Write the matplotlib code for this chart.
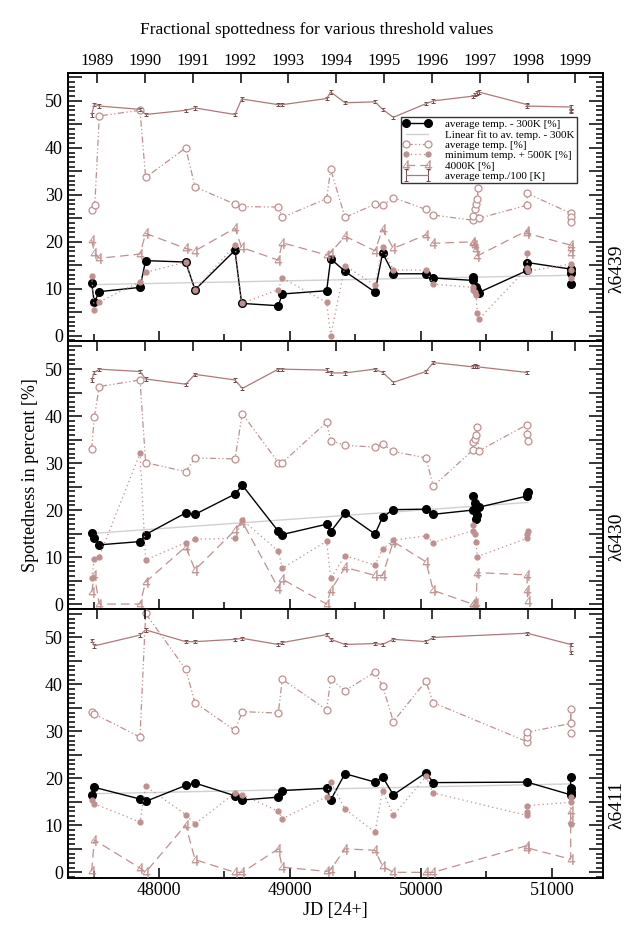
import numpy as np
import matplotlib
matplotlib.use('Agg')
import matplotlib.pyplot as plt
from matplotlib.ticker import MultipleLocator, FuncFormatter, FixedLocator

plt.rcParams['font.family'] = ['Liberation Serif', 'DejaVu Serif']
plt.rcParams['mathtext.fontset'] = 'stix'

# ---------------- data ----------------
panel_names = ["λ6439", "λ6430", "λ6411"]
years = ["1989", "1990", "1991", "1992", "1993", "1994", "1995", "1996", "1997", "1998", "1999"]
year_jd = [47527.5, 47892.5, 48257.5, 48622.5, 48988.5, 49353.5, 49718.5, 50083.5, 50449.5, 50814.5, 51179.5]

# ---- λ6439 ----
p1_blk_jd = [47486, 47506, 47544, 47855, 47898, 48204, 48275, 48580, 48631, 48911, 48941, 49280, 49311, 49420, 49649, 49707, 49789, 50038, 50094, 50394, 50400, 50420, 50430, 50440, 50811, 50811, 51143, 51143, 51143]
p1_blk = [11.2, 7.1, 9.4, 10.3, 16.0, 15.7, 9.8, 18.2, 6.9, 6.4, 8.9, 9.6, 16.4, 13.7, 9.3, 17.6, 13.2, 13.2, 12.3, 11.8, 12.6, 10.3, 9.8, 9.2, 13.9, 15.6, 14.2, 13.3, 11.0]
p1_avg_jd = [47486, 47510, 47544, 47855, 47898, 48204, 48275, 48580, 48631, 48911, 48941, 49280, 49311, 49420, 49649, 49707, 49789, 50038, 50094, 50394, 50400, 50410, 50420, 50430, 50435, 50440, 50811, 50811, 51143, 51143, 51143]
p1_avg = [26.8, 27.8, 46.8, 48.0, 33.7, 40.0, 31.7, 28.0, 27.5, 27.4, 25.2, 29.2, 35.4, 25.2, 28.0, 27.8, 29.4, 26.9, 25.7, 24.6, 25.4, 26.9, 28.0, 29.1, 31.4, 25.0, 27.8, 30.3, 26.1, 25.2, 24.3]
p1_min_jd = [47486, 47506, 47544, 47855, 47898, 48204, 48275, 48580, 48631, 48911, 48941, 49280, 49311, 49420, 49649, 49707, 49789, 50038, 50094, 50394, 50400, 50410, 50420, 50430, 50440, 50811, 50811, 50815, 51143, 51143, 51143]
p1_min = [12.7, 5.5, 7.2, 11.5, 13.5, 15.7, 9.8, 19.3, 6.9, 9.8, 12.3, 7.1, 0.0, 14.9, 10.8, 18.8, 14.0, 14.0, 11.0, 10.3, 9.8, 9.4, 8.7, 4.8, 3.5, 14.4, 17.6, 13.7, 15.3, 13.9, 12.3]
p1_4k_jd = [47486, 47506, 47544, 47855, 47898, 48204, 48275, 48580, 48631, 48911, 48941, 49280, 49311, 49420, 49649, 49707, 49789, 50038, 50094, 50394, 50400, 50410, 50420, 50430, 50811, 50811, 51143, 51143, 51143]
p1_4k = [20.4, 17.7, 16.5, 17.4, 21.8, 18.6, 18.1, 22.9, 18.8, 16.1, 19.8, 17.2, 17.7, 21.2, 18.1, 22.7, 18.6, 21.5, 19.7, 20.0, 19.8, 19.3, 18.4, 17.0, 22.4, 21.8, 19.3, 18.6, 17.7]
p1_tk_jd = [47486, 47506, 47544, 47855, 47898, 48204, 48275, 48580, 48631, 48911, 48941, 49280, 49311, 49420, 49649, 49707, 49789, 50038, 50094, 50394, 50410, 50425, 50440, 50811, 50811, 51143, 51143, 51143]
p1_tk = [47.0, 49.3, 48.9, 48.2, 47.1, 48.0, 48.5, 47.1, 50.4, 49.2, 49.2, 50.5, 51.9, 49.6, 49.8, 48.2, 46.5, 49.4, 50.0, 51.0, 51.3, 51.7, 51.9, 49.2, 48.9, 48.7, 48.0, 47.7]

# ---- λ6430 ----
p2_blk_jd = [47486, 47506, 47544, 47855, 47898, 48204, 48275, 48580, 48636, 48911, 48941, 49280, 49311, 49420, 49649, 49707, 49789, 50038, 50094, 50394, 50400, 50410, 50420, 50430, 50440, 50811, 50811, 50815]
p2_blk = [15.2, 14.1, 12.6, 13.3, 14.8, 19.4, 19.1, 23.4, 25.3, 15.5, 14.8, 17.0, 15.4, 19.4, 14.9, 18.5, 20.1, 20.2, 19.1, 20.0, 23.0, 21.6, 18.2, 18.9, 20.6, 23.0, 23.4, 23.9]
p2_avg_jd = [47486, 47506, 47544, 47855, 47898, 48204, 48275, 48580, 48636, 48911, 48941, 49280, 49311, 49420, 49649, 49707, 49789, 50038, 50094, 50394, 50400, 50410, 50420, 50430, 50440, 50811, 50811, 50815]
p2_avg = [32.9, 39.8, 46.3, 47.7, 30.1, 28.2, 31.1, 30.9, 40.5, 30.1, 30.1, 38.7, 34.8, 33.8, 33.4, 34.0, 32.5, 31.1, 25.1, 32.7, 34.5, 35.2, 36.0, 37.6, 32.6, 38.2, 36.1, 34.8]
p2_min_jd = [47486, 47506, 47544, 47855, 47898, 48204, 48275, 48580, 48636, 48911, 48941, 49280, 49311, 49420, 49649, 49707, 49789, 50038, 50094, 50394, 50400, 50410, 50420, 50430, 50811, 50811, 50815]
p2_min = [5.5, 9.6, 10.1, 32.1, 9.4, 13.1, 13.8, 14.0, 17.9, 11.3, 7.6, 13.4, 5.5, 10.3, 8.3, 11.7, 13.6, 14.5, 13.1, 15.6, 16.8, 14.9, 13.3, 10.1, 14.0, 15.0, 15.5]
p2_4k_jd = [47486, 47506, 47544, 47855, 47898, 48204, 48275, 48580, 48636, 48911, 48941, 49280, 49311, 49420, 49649, 49707, 49789, 50038, 50094, 50394, 50400, 50410, 50420, 50430, 50811, 50811, 50815]
p2_4k = [2.5, 6.2, 0.0, 0.0, 4.7, 12.2, 7.3, 15.7, 17.5, 3.4, 5.3, 0.0, 2.9, 7.8, 6.1, 6.1, 13.3, 9.0, 2.9, 0.0, 0.0, 0.0, 0.2, 6.7, 6.2, 2.9, 0.7]
p2_tk_jd = [47486, 47506, 47544, 47855, 47898, 48204, 48275, 48580, 48636, 48911, 48941, 49280, 49311, 49420, 49649, 49707, 49789, 50038, 50094, 50394, 50410, 50430, 50811]
p2_tk = [47.7, 49.3, 50.0, 49.5, 47.9, 46.8, 48.9, 47.7, 45.9, 50.0, 50.0, 49.8, 49.2, 49.2, 50.0, 49.3, 47.2, 49.5, 51.4, 50.5, 50.7, 50.5, 49.3]

# ---- λ6411 ----
p3_blk_jd = [47486, 47506, 47855, 47898, 48204, 48275, 48580, 48636, 48911, 48941, 49280, 49311, 49420, 49649, 49707, 49789, 50038, 50094, 50811, 51143, 51143, 51143, 51143]
p3_blk = [16.4, 18.1, 15.6, 15.1, 18.5, 19.0, 16.3, 15.4, 16.0, 17.4, 17.9, 15.4, 21.0, 19.2, 20.3, 16.5, 21.2, 19.1, 19.2, 16.5, 17.0, 17.9, 20.2]
p3_avg_jd = [47486, 47506, 47855, 47898, 48204, 48275, 48580, 48636, 48911, 48941, 49280, 49311, 49420, 49649, 49707, 49789, 50038, 50094, 50811, 50811, 50811, 51143, 51143, 51143]
p3_avg = [34.1, 33.7, 28.8, 55.1, 43.2, 36.1, 30.2, 34.2, 33.9, 41.1, 34.6, 41.1, 38.7, 42.6, 39.7, 32.1, 40.7, 36.1, 27.8, 28.9, 29.8, 31.7, 34.8, 29.6]
p3_min_jd = [47486, 47506, 47855, 47898, 48204, 48275, 48580, 48636, 48911, 48941, 49280, 49311, 49420, 49649, 49707, 49789, 50038, 50094, 50811, 50811, 50811, 51143, 51143, 51143]
p3_min = [15.4, 14.6, 10.7, 18.3, 12.3, 10.3, 16.9, 16.5, 13.0, 11.4, 16.1, 19.2, 13.5, 8.5, 17.4, 12.1, 20.4, 16.9, 12.1, 12.8, 14.2, 14.9, 16.0, 10.3]
p3_4k_jd = [47486, 47506, 47855, 47898, 48204, 48275, 48580, 48636, 48911, 48941, 49280, 49311, 49420, 49649, 49707, 49789, 50038, 50094, 50811, 50811, 51143, 51143, 51143]
p3_4k = [0.2, 6.9, 0.9, 0.0, 10.1, 2.7, 0.0, 0.0, 5.0, 1.1, 0.2, 0.6, 5.0, 4.7, 1.3, 0.0, 0.0, 0.0, 5.7, 5.2, 2.8, 11.0, 13.0]
p3_tk_jd = [47486, 47506, 47855, 47898, 48204, 48275, 48580, 48636, 48911, 48941, 49280, 49311, 49420, 49649, 49707, 49789, 50038, 50094, 50811, 51143, 51143]
p3_tk = [49.4, 48.2, 50.5, 51.6, 49.1, 49.1, 49.6, 49.8, 48.5, 48.9, 50.6, 49.6, 48.5, 48.7, 48.5, 49.6, 49.1, 50.0, 50.9, 48.5, 46.8]

panels = [
    (p1_blk_jd, p1_blk, p1_avg_jd, p1_avg, p1_min_jd, p1_min, p1_4k_jd, p1_4k, p1_tk_jd, p1_tk),
    (p2_blk_jd, p2_blk, p2_avg_jd, p2_avg, p2_min_jd, p2_min, p2_4k_jd, p2_4k, p2_tk_jd, p2_tk),
    (p3_blk_jd, p3_blk, p3_avg_jd, p3_avg, p3_min_jd, p3_min, p3_4k_jd, p3_4k, p3_tk_jd, p3_tk),
]

# ---------------- style ----------------
BROWN = '#c09090'
BROWN_D = '#b07878'
W, H = 633, 926
fig = plt.figure(figsize=(W / 100, H / 100), dpi=100)
L, R = 67.7 / W, 602.5 / W
top_px, bot_px = 72.7, 877.5
ph = (bot_px - top_px) / 3
XLIM = (47303, 51386)
YLIM = (-1.1, 56.0)

fmt10 = FuncFormatter(lambda v, p: f"{int(round(v))}" if abs(v / 10 - round(v / 10)) < 1e-6 else "")

for i, data in enumerate(panels):
    bjd, b, ajd, a, mjd, m, kjd, k, tjd, t = data
    y0 = 1 - (top_px + (i + 1) * ph) / H
    ax = fig.add_axes([L, y0, R - L, ph / H])
    ax.set_xlim(*XLIM)
    ax.set_ylim(*YLIM)

    c = np.polyfit(bjd, b, 1)
    fx = np.array([min(bjd), max(bjd)])
    ax.plot(fx, np.polyval(c, fx), color='#d0d0d0', lw=1.0, zorder=2,
            label='Linear fit to av. temp. - 300K')
    ax.plot(bjd, b, '-o', color='black', lw=1.0, ms=5.5, zorder=3,
            label='average temp. - 300K [%]')
    ax.plot(ajd, a, color=BROWN, lw=0.9, dashes=(5, 2, 1, 2, 1, 2), marker='o', ms=5,
            mfc='white', mec=BROWN, mew=0.9, zorder=4, label='average temp. [%]')
    ax.plot(mjd, m, color=BROWN, lw=0.9, dashes=(1, 2.5), marker='o', ms=3.5,
            mfc=BROWN, mec=BROWN, zorder=4, label='minimum temp. + 500K [%]')
    ax.plot(kjd, k, color=BROWN, lw=0.9, dashes=(7, 4), marker='$4$', ms=7.5,
            mfc=BROWN, mec=BROWN, mew=0.2, zorder=4, label='4000K [%]')
    ax.errorbar(tjd, t, yerr=0.35, color=BROWN_D, lw=0.9, ecolor='#6a4a4a',
                elinewidth=0.7, capsize=1.5, capthick=0.7, zorder=4,
                label='average temp./100 [K]')

    ax.yaxis.set_major_locator(MultipleLocator(5))
    ax.yaxis.set_minor_locator(MultipleLocator(1))
    ax.yaxis.set_major_formatter(fmt10)
    ax.tick_params(axis='y', which='both', direction='in', left=True, right=True,
                   labelsize=13, width=1.1)
    ax.tick_params(axis='y', which='major', length=10)
    ax.tick_params(axis='y', which='minor', length=5)

    ax.xaxis.set_major_locator(MultipleLocator(1000))
    ax.xaxis.set_minor_locator(MultipleLocator(500))
    ax.tick_params(axis='x', which='both', direction='in', top=False,
                   bottom=(i > 0), labelbottom=(i == 2), labelsize=13, width=1.1)
    ax.tick_params(axis='x', which='major', length=7)
    ax.tick_params(axis='x', which='minor', length=5)
    for s in ax.spines.values():
        s.set_linewidth(1.4)

    ty = ax.twiny()
    ty.set_xlim(*XLIM)
    ty.xaxis.set_major_locator(FixedLocator(year_jd))
    ty.set_xticklabels(years if i == 0 else [''] * len(years))
    ty.xaxis.set_minor_locator(FixedLocator([]))
    ty.tick_params(axis='x', direction='in', length=7, width=1.1, labelsize=12, pad=3,
                   top=True, bottom=False)
    for s in ty.spines.values():
        s.set_visible(False)

    fig.text(617 / W, y0 + 0.27 * ph / H, panel_names[i], rotation=90,
             ha='center', va='center', fontsize=14)

    if i == 0:
        h_, l_ = ax.get_legend_handles_labels()
        order = ['average temp. - 300K [%]', 'Linear fit to av. temp. - 300K',
                 'average temp. [%]', 'minimum temp. + 500K [%]', '4000K [%]',
                 'average temp./100 [K]']
        hh = [h_[l_.index(o)] for o in order]
        leg = ax.legend(hh, order, loc='upper right', bbox_to_anchor=(0.952, 0.834),
                        fontsize=8, numpoints=2, handlelength=2.6, handletextpad=1.2,
                        labelspacing=0.05, borderpad=0.2, borderaxespad=0,
                        frameon=True, fancybox=False, edgecolor='black')
        leg.get_frame().set_linewidth(1.0)
        leg.set_zorder(10)
    if i == 1:
        ax.set_ylabel('Spottedness in percent [%]', fontsize=13, labelpad=4)
    if i == 2:
        ax.set_xlabel('JD [24+]', fontsize=13, labelpad=2)

fig.text(0.5, 1 - 30 / H, 'Fractional spottedness for various threshold values',
         ha='center', va='center', fontsize=12.5)

fig.savefig('out.png', dpi=100)
